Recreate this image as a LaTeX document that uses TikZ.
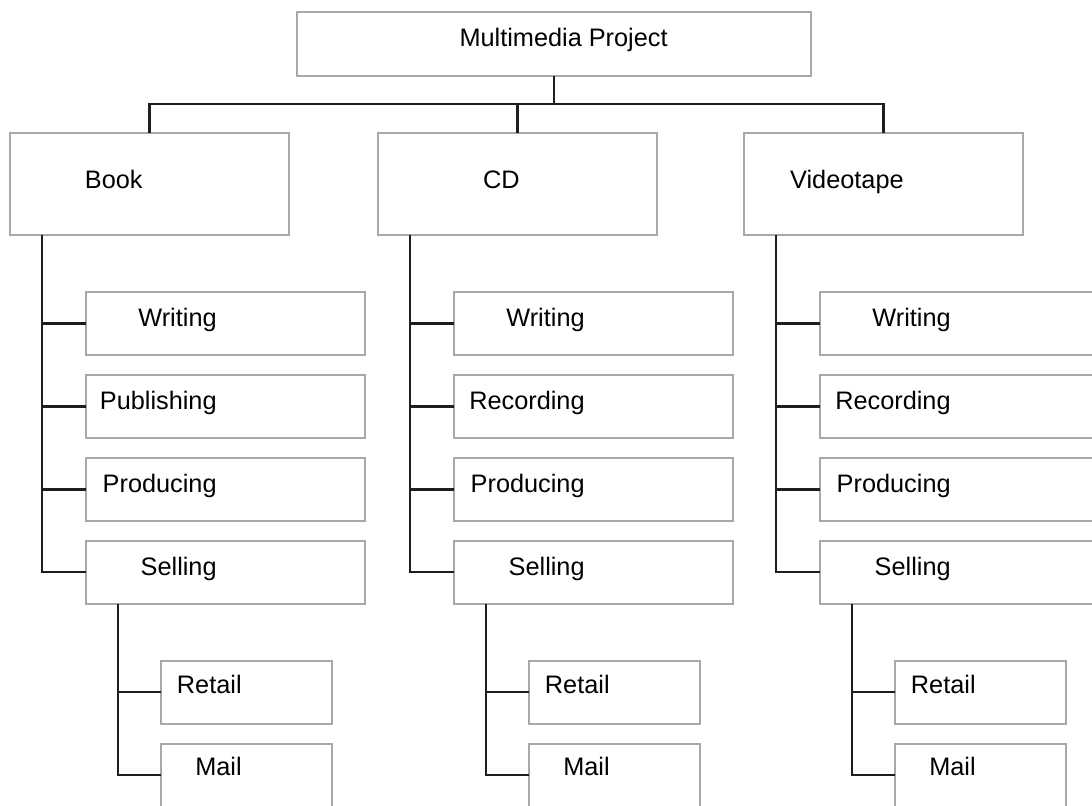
\documentclass[tikz,border=0pt]{standalone}
\usepackage{fontspec}
\setmainfont{Liberation Sans}
\usetikzlibrary{positioning,calc}

\definecolor{boxgray}{HTML}{A8A8A8}
\definecolor{linegray}{HTML}{1E1E1E}

\tikzset{
  box/.style={draw=boxgray, line width=1pt, inner sep=0pt, outer sep=0pt},
  big/.style={box, minimum width=5.58cm, minimum height=2.04cm},
  task/.style={box, minimum width=5.58cm, minimum height=1.26cm},
  sub/.style={box, minimum width=3.42cm, minimum height=1.26cm},
  link/.style={draw=linegray, line width=1.2pt},
  lbl/.style={font=\fontsize{14.4}{17}\selectfont, inner sep=0pt, anchor=base east},
}

\begin{document}
\begin{tikzpicture}[x=0.02cm, y=-0.02cm, node distance=0.4cm]
	\path[use as bounding box, clip] (0,0) rectangle (1092,805);
	
	\node[box, minimum width=10.28cm, minimum height=1.28cm, anchor=north west] (proj) at (297,12) {};
	\node[lbl] (proj-t) at ($(proj.north west)+(371,34)$) {Multimedia Project};
	\coordinate (bus) at ($(proj.south)+(0,28)$);
	\draw[link] (proj.south) -- (bus);
	
	\foreach \col/\x/\ttl/\tx/\sec in {book/10/Book/133/Publishing, cd/378/CD/142/Recording, video/744/Videotape/160/Recording}{
		\node[big, anchor=north west] (\col) at (\x,133) {};
		\node[lbl] (\col-t) at ($(\col.north west)+(\tx,55)$) {\ttl};
		\draw[link] (bus) -| (\col.north);
		
		% tasks of the column
		\node[task, anchor=north west] (\col-w) at ($(\col.south west)+(76,57)$) {};
		\node[task, below=of \col-w] (\col-p) {};
		\node[task, below=of \col-p] (\col-r) {};
		\node[task, below=of \col-r] (\col-s) {};
		\coordinate (\col-v) at ($(\col.south west)+(32,0)$);
		\foreach \k/\lab in {w/Writing, p/\sec, r/Producing, s/Selling}{
			\node[lbl] (\col-\k-t) at ($(\col-\k.north west)+(131,35)$) {\lab};
			\draw[link] (\col-v) |- (\col-\k.west);
		}
		
		% selling channels
		\node[sub, anchor=north west] (\col-ret) at ($(\col-s.south west)+(75,57)$) {};
		\node[sub, below=of \col-ret] (\col-mail) {};
		\node[lbl] (\col-ret-t) at ($(\col-ret.north west)+(81,33)$) {Retail};
		\node[lbl] (\col-mail-t) at ($(\col-mail.north west)+(81,32)$) {Mail};
		\coordinate (\col-sv) at ($(\col-s.south west)+(32,0)$);
		\draw[link] (\col-sv) |- (\col-ret.west);
		\draw[link] (\col-sv) |- (\col-mail.west);
	}
\end{tikzpicture}
\end{document}
